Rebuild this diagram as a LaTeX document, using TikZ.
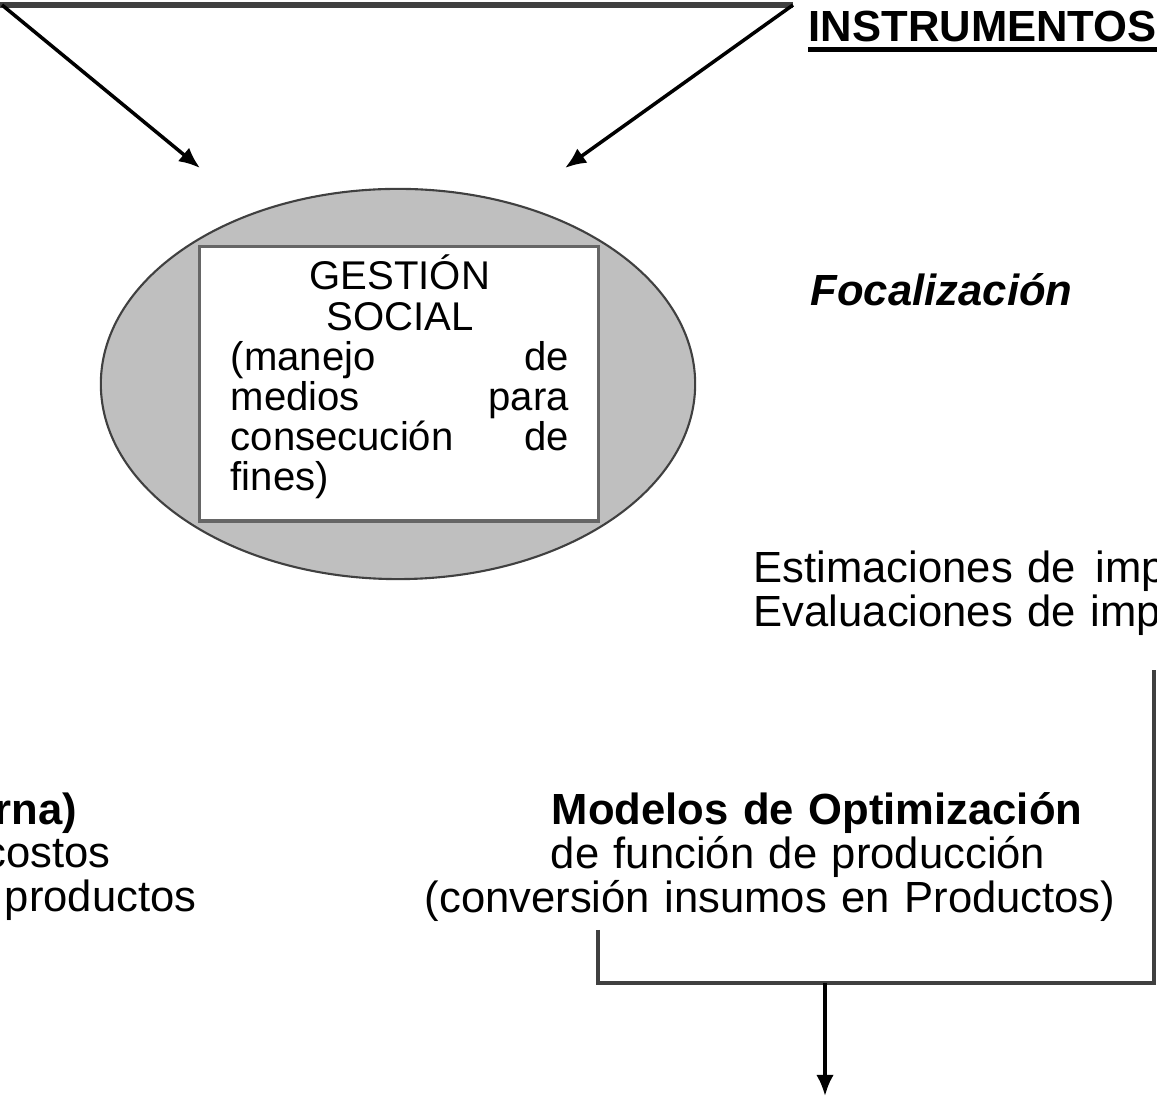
\documentclass[tikz,border=0pt]{standalone}
\usepackage{fontspec}
\setmainfont{Liberation Sans}
\usetikzlibrary{shapes.geometric,arrows.meta}

\begin{document}
\begin{tikzpicture}[x=0.01cm,y=-0.01cm]
  \tikzset{txt/.style={inner sep=0pt,font=\fontsize{12.4}{12.4}\selectfont},
    elli/.style={ellipse,draw=black!75,line width=0.6pt,fill=black!25,
      minimum width=5.94cm,minimum height=3.9cm},
    caja/.style={draw=black!60,line width=0.9pt,fill=white,
      minimum width=3.98cm,minimum height=2.74cm},
    flecha/.style={draw,line width=1pt,-{Latex[length=6pt,width=5pt]}},
    conec/.style={draw=black!75,line width=0.9pt},
    barra/.style={draw=black!75,line width=1.5pt}}
  \useasboundingbox (0,0) rectangle (1157,1098);
  \clip (0,0) rectangle (1157,1098);

  \node[elli] (elipse) at (398,384) {};
  \node[caja] (caja) at (399,384) {};
  \node[txt,font=\fontsize{11.4}{11.4}\selectfont,text width=3.38cm,anchor=base west]
    (gestion) at (230,290)
    {\centering GESTIÓN\\SOCIAL\par\raggedright
     (manejo\hfill de\\medios\hfill para\\consecución\hfill de\\fines)};

  \node[txt,font=\fontsize{12.4}{12.4}\bfseries\selectfont,anchor=base west]
    (instr) at (808,42) {INSTRUMENTOS};
  \draw[line width=1.2pt] ([yshift=-0.075cm]instr.base west) -- ([yshift=-0.075cm]instr.base east);
  \node[txt,font=\fontsize{12.4}{12.4}\bfseries\itshape\selectfont,anchor=base west]
    (foca) at (810,306) {Focalización};
  \node[txt,text width=5cm,anchor=base west] (estim) at (753,583)
    {Estimaciones de\hspace{1.5pt} imp\\Evaluaciones de imp};

  \node[txt,text width=7.2cm,anchor=base west] (modelos) at (424,825)
    {\hspace*{1.27cm}\textbf{Modelos de Optimización}\\
     \hspace*{1.26cm}de función de producción\\
     (conversión insumos en Productos)};
  \node[txt,font=\fontsize{12.4}{12.4}\bfseries\selectfont,anchor=base east] (izqA) at (78,825) {rna)};
  \node[txt,anchor=base east] (izqB) at (111,868) {costos};
  \node[txt,anchor=base east] (izqC) at (197,912) {productos};

  \coordinate (topL) at (2,5);
  \coordinate (topR) at (793,5);
  \coordinate (puntaL) at (200,168);
  \coordinate (puntaR) at (565,168);
  \draw[barra] (-10,5) -- (topR);
  \draw[flecha] (topL) -- (puntaL);
  \draw[flecha] (topR) -- (puntaR);

  \coordinate (bajaR) at (1154,670);
  \coordinate (bajaL) at (598,930);
  \coordinate (esq) at (1154,983);
  \coordinate (junta) at (825,983);
  \coordinate (fin) at (825,1096);
  \draw[conec] (bajaL) |- (esq) -- (bajaR);
  \draw[flecha] (junta) -- (fin);
\end{tikzpicture}
\end{document}
